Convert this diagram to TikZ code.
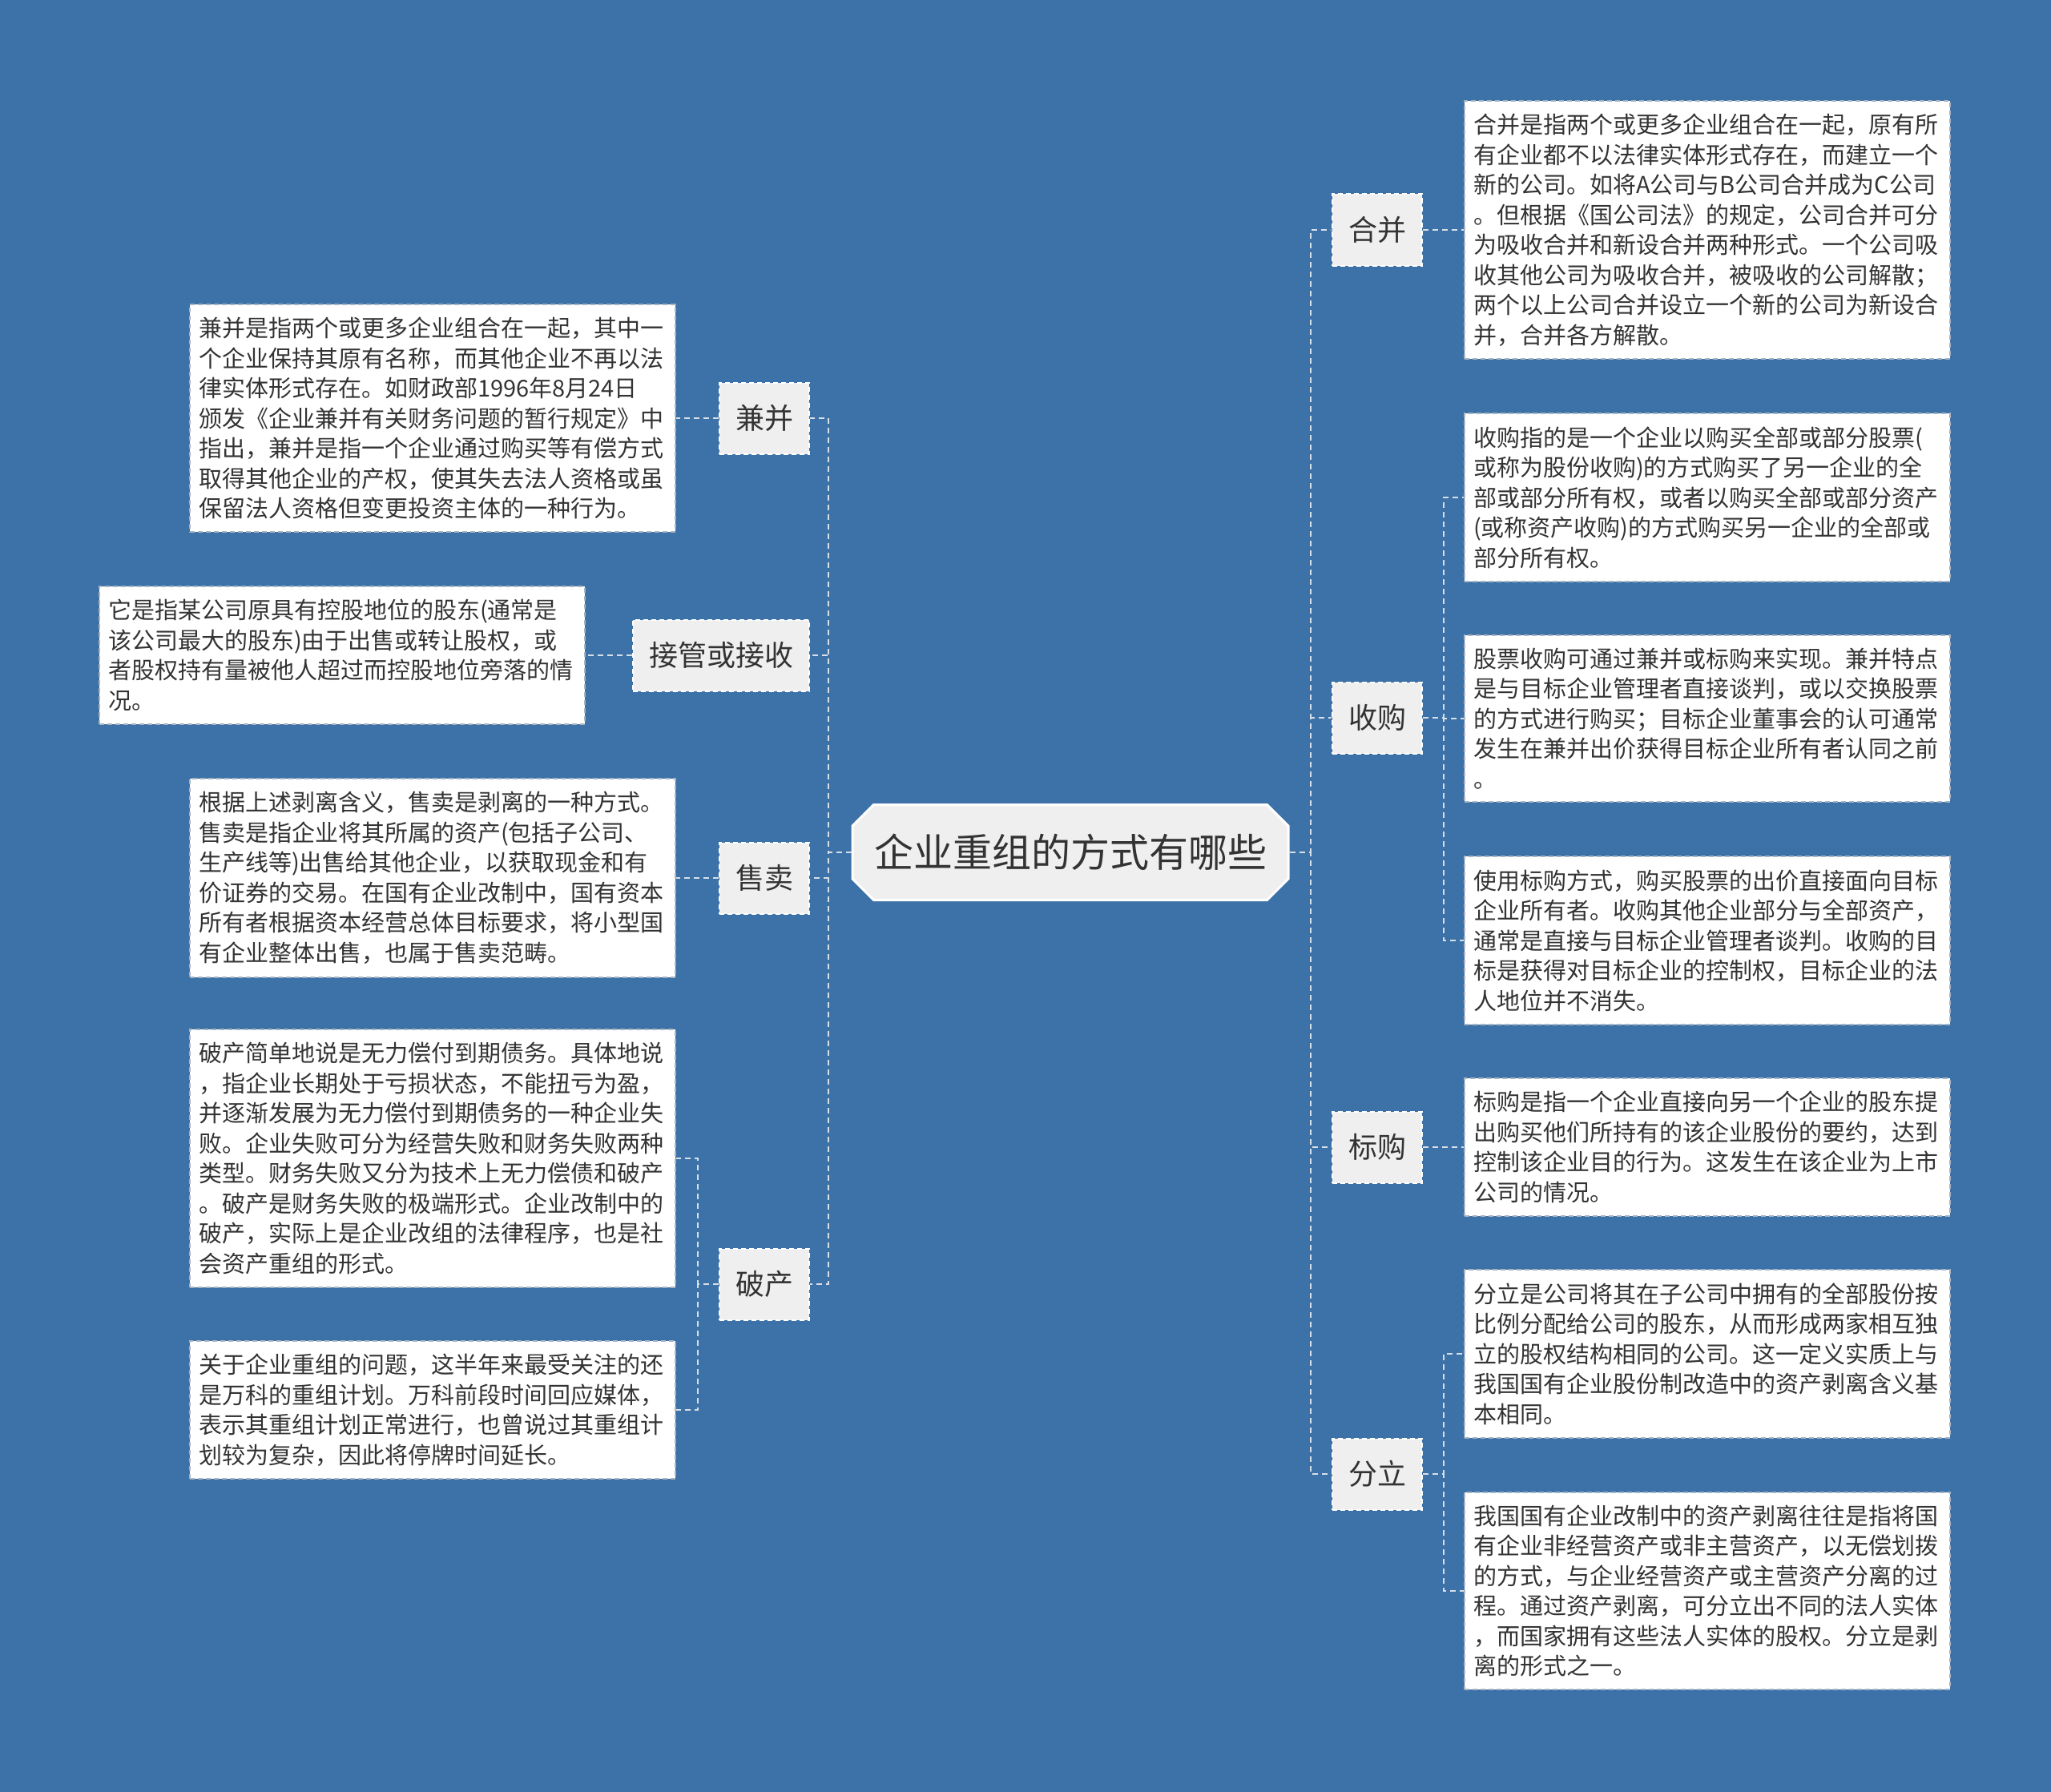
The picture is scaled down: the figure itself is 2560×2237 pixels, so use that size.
\documentclass[tikz,border=0pt]{standalone}
\usepackage{fontspec}
\setmainfont{Noto Sans CJK SC}
\usepackage{tikz}
\usetikzlibrary{positioning, calc, shapes.misc}

\definecolor{bgblue}{HTML}{3C72A8}
\definecolor{nodegray}{HTML}{EFEFEF}
\definecolor{textgray}{HTML}{333333}
\definecolor{linegray}{HTML}{D9DFE7}
\definecolor{boxedge}{HTML}{A9B4C2}

\begin{document}
\begin{tikzpicture}[x=1pt, y=-1pt,
    root/.style={chamfered rectangle, chamfered rectangle xsep=26pt, fill=nodegray, draw=white, line width=3pt,
        text=textgray, font=\fontsize{49}{58}\selectfont, minimum width=544pt, minimum height=119pt, inner sep=0pt},
    branch/.style={fill=nodegray, draw=white, dash pattern=on 6pt off 4pt, line width=2pt, text=textgray,
        font=\fontsize{36}{43}\selectfont, inner xsep=20pt, minimum height=89pt},
    desc/.style={fill=white, draw=boxedge, dash pattern=on 6pt off 4pt, line width=2pt, text=textgray,
        font=\fontsize{29}{37.5}\selectfont, align=left, text width=584pt, inner xsep=11pt, inner ysep=16pt},
    link/.style={draw=linegray, line width=2pt, dash pattern=on 7pt off 5pt}]

    \fill[bgblue] (0,0) rectangle (2560,2237);
    \useasboundingbox (0,0) rectangle (2560,2237);

    \node[root] (root) at (1336,1064) {企业重组的方式有哪些};

    % left side
    \node[branch, anchor=east] (jianbing) at (1011,522) {兼并};
    \node[branch, anchor=east] (jieguan) at (1011,818) {接管或接收};
    \node[branch, anchor=east] (shoumai) at (1011,1096) {售卖};
    \node[branch, anchor=east] (pochan) at (1011,1603) {破产};

    \node[desc, anchor=east] (jbdesc) at (844,522) {兼并是指两个或更多企业组合在一起，其中一\\
        个企业保持其原有名称，而其他企业不再以法\\
        律实体形式存在。如财政部1996年8月24日\\
        颁发《企业兼并有关财务问题的暂行规定》中\\
        指出，兼并是指一个企业通过购买等有偿方式\\
        取得其他企业的产权，使其失去法人资格或虽\\
        保留法人资格但变更投资主体的一种行为。};
    \node[desc, anchor=east] (jgdesc) at (731,818) {它是指某公司原具有控股地位的股东(通常是\\
        该公司最大的股东)由于出售或转让股权，或\\
        者股权持有量被他人超过而控股地位旁落的情\\
        况。};
    \node[desc, anchor=east] (smdesc) at (844,1096) {根据上述剥离含义，售卖是剥离的一种方式。\\
        售卖是指企业将其所属的资产(包括子公司、\\
        生产线等)出售给其他企业，以获取现金和有\\
        价证券的交易。在国有企业改制中，国有资本\\
        所有者根据资本经营总体目标要求，将小型国\\
        有企业整体出售，也属于售卖范畴。};
    \node[desc, anchor=east] (pcdesc1) at (844,1446) {破产简单地说是无力偿付到期债务。具体地说\\
        ，指企业长期处于亏损状态，不能扭亏为盈，\\
        并逐渐发展为无力偿付到期债务的一种企业失\\
        败。企业失败可分为经营失败和财务失败两种\\
        类型。财务失败又分为技术上无力偿债和破产\\
        。破产是财务失败的极端形式。企业改制中的\\
        破产，实际上是企业改组的法律程序，也是社\\
        会资产重组的形式。};
    \node[desc, anchor=east] (pcdesc2) at (844,1760) {关于企业重组的问题，这半年来最受关注的还\\
        是万科的重组计划。万科前段时间回应媒体，\\
        表示其重组计划正常进行，也曾说过其重组计\\
        划较为复杂，因此将停牌时间延长。};

    % right side
    \node[branch, anchor=west] (hebing) at (1662,287) {合并};
    \node[branch, anchor=west] (shougou) at (1662,896) {收购};
    \node[branch, anchor=west] (biaogou) at (1662,1432) {标购};
    \node[branch, anchor=west] (fenli) at (1662,1840) {分立};

    \node[desc, anchor=west] (hbdesc) at (1827,287) {合并是指两个或更多企业组合在一起，原有所\\
        有企业都不以法律实体形式存在，而建立一个\\
        新的公司。如将A公司与B公司合并成为C公司\\
        。但根据《国公司法》的规定，公司合并可分\\
        为吸收合并和新设合并两种形式。一个公司吸\\
        收其他公司为吸收合并，被吸收的公司解散；\\
        两个以上公司合并设立一个新的公司为新设合\\
        并，合并各方解散。};
    \node[desc, anchor=west] (sgdesc1) at (1827,621) {收购指的是一个企业以购买全部或部分股票(\\
        或称为股份收购)的方式购买了另一企业的全\\
        部或部分所有权，或者以购买全部或部分资产\\
        (或称资产收购)的方式购买另一企业的全部或\\
        部分所有权。};
    \node[desc, anchor=west] (sgdesc2) at (1827,897) {股票收购可通过兼并或标购来实现。兼并特点\\
        是与目标企业管理者直接谈判，或以交换股票\\
        的方式进行购买；目标企业董事会的认可通常\\
        发生在兼并出价获得目标企业所有者认同之前\\
        。};
    \node[desc, anchor=west] (sgdesc3) at (1827,1174) {使用标购方式，购买股票的出价直接面向目标\\
        企业所有者。收购其他企业部分与全部资产，\\
        通常是直接与目标企业管理者谈判。收购的目\\
        标是获得对目标企业的控制权，目标企业的法\\
        人地位并不消失。};
    \node[desc, anchor=west] (bgdesc) at (1827,1432) {标购是指一个企业直接向另一个企业的股东提\\
        出购买他们所持有的该企业股份的要约，达到\\
        控制该企业目的行为。这发生在该企业为上市\\
        公司的情况。};
    \node[desc, anchor=west] (fldesc1) at (1827,1690) {分立是公司将其在子公司中拥有的全部股份按\\
        比例分配给公司的股东，从而形成两家相互独\\
        立的股权结构相同的公司。这一定义实质上与\\
        我国国有企业股份制改造中的资产剥离含义基\\
        本相同。};
    \node[desc, anchor=west] (fldesc2) at (1827,1986) {我国国有企业改制中的资产剥离往往是指将国\\
        有企业非经营资产或非主营资产，以无偿划拨\\
        的方式，与企业经营资产或主营资产分离的过\\
        程。通过资产剥离，可分立出不同的法人实体\\
        ，而国家拥有这些法人实体的股权。分立是剥\\
        离的形式之一。};

    % connectors
    \coordinate (ltrunk) at ($(root.west)+(-29,0)$);
    \coordinate (rtrunk) at ($(root.east)+(26,0)$);
    \foreach \b in {jianbing,jieguan,shoumai,pochan}
        \draw[link] (root.west) -- (ltrunk) |- (\b.east);
    \foreach \b in {hebing,shougou,biaogou,fenli}
        \draw[link] (root.east) -- (rtrunk) |- (\b.west);

    \draw[link] (jianbing.west) -- (jbdesc.east);
    \draw[link] (jieguan.west) -- (jgdesc.east);
    \draw[link] (shoumai.west) -- (smdesc.east);
    \draw[link] (hebing.east) -- (hbdesc.west);
    \draw[link] (biaogou.east) -- (bgdesc.west);

    \coordinate (pctrunk) at ($(pochan.west)+(-26,0)$);
    \foreach \d in {pcdesc1,pcdesc2}
        \draw[link] (pochan.west) -- (pctrunk) |- (\d.east);
    \coordinate (sgtrunk) at ($(shougou.east)+(26,0)$);
    \foreach \d in {sgdesc1,sgdesc2,sgdesc3}
        \draw[link] (shougou.east) -- (sgtrunk) |- (\d.west);
    \coordinate (fltrunk) at ($(fenli.east)+(26,0)$);
    \foreach \d in {fldesc1,fldesc2}
        \draw[link] (fenli.east) -- (fltrunk) |- (\d.west);
\end{tikzpicture}
\end{document}
